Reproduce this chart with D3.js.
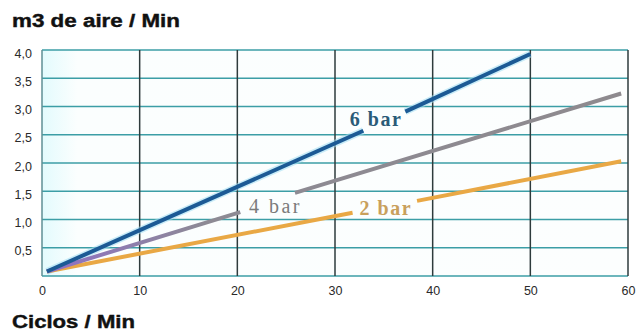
<!DOCTYPE html>
<html><head><meta charset="utf-8">
<script src="https://cdn.jsdelivr.net/npm/d3@7"></script>
<style>body{margin:0;background:#fff}svg{display:block}</style>
</head><body>
<svg id="c" width="639" height="333"></svg>
<script>
const xTicks = [0, 10, 20, 30, 40, 50, 60];
const yTicks = [0.5, 1.0, 1.5, 2.0, 2.5, 3.0, 3.5, 4.0];
// each series: points with null marking the gap left for the label
const bar6 = [[0.5, 0.08], [32.9, 2.57], null, [37.2, 2.91], [50, 3.93]];
const bar4 = [[0.5, 0.08], [20.3, 1.13], null, [25.9, 1.47], [59.3, 3.23]];
const bar2 = [[0.5, 0.08], [31.8, 1.12], null, [38.4, 1.33], [59.3, 2.03]];
const labels = [
  {text: "6 bar", x: 34.2, y: 2.65},
  {text: "4 bar", x: 23.9, y: 1.11},
  {text: "2 bar", x: 35.2, y: 1.08}
];

const svg = d3.select("#c");
const x = d3.scaleLinear().domain([0, 60]).range([42, 628]);
const y = d3.scaleLinear().domain([0, 4]).range([276, 50]);

// plot background
const defs = svg.append("defs");
const g1 = defs.append("linearGradient").attr("id", "bg").attr("x1", 0).attr("x2", 1).attr("y1", 0).attr("y2", 0);
g1.append("stop").attr("offset", "0%").attr("stop-color", "#e3fbfd");
g1.append("stop").attr("offset", "6%").attr("stop-color", "#fbfefe");
g1.append("stop").attr("offset", "100%").attr("stop-color", "#fcfefe");
svg.append("rect").attr("x", x(0)).attr("y", y(4)).attr("width", x(60) - x(0)).attr("height", y(0) - y(4)).attr("fill", "url(#bg)");

// horizontal gridlines
svg.append("g").selectAll("line").data([0].concat(yTicks)).join("line")
  .attr("x1", x(0)).attr("x2", x(60))
  .attr("y1", d => y(d)).attr("y2", d => y(d))
  .attr("stroke", "#3c9ea6").attr("stroke-width", 1.6);
// vertical gridlines
svg.append("g").selectAll("line").data(xTicks).join("line")
  .attr("x1", d => x(d)).attr("x2", d => x(d))
  .attr("y1", y(4)).attr("y2", y(0))
  .attr("stroke", d => d === 0 ? "#5f8f95" : "#2e3b3c").attr("stroke-width", 1.5);

// axes
const yAxis = d3.axisLeft(y).tickValues(yTicks).tickSize(0).tickPadding(0)
  .tickFormat(d => d3.format(".1f")(d).replace(".", ","));
const ya = svg.append("g").attr("transform", "translate(32,3)").call(yAxis);
ya.select(".domain").remove();
ya.selectAll("text").attr("font-family", "Liberation Sans, Arial, sans-serif").attr("font-size", 12.5).attr("fill", "#2a2a2a");

const xAxis = d3.axisBottom(x).tickValues(xTicks).tickSize(0).tickPadding(0).tickFormat(d3.format("d"));
const xa = svg.append("g").attr("transform", "translate(0,286)").call(xAxis);
xa.select(".domain").remove();
xa.selectAll("text").attr("font-family", "Liberation Sans, Arial, sans-serif").attr("font-size", 12.5).attr("fill", "#2a2a2a");

// lines
const line = d3.line().defined(d => d !== null).x(d => x(d[0])).y(d => y(d[1]));
svg.append("path").datum(bar6).attr("d", line).attr("fill", "none")
  .attr("stroke", "#9fdcf2").attr("stroke-width", 7).attr("stroke-opacity", 0.55);
svg.append("path").datum(bar2).attr("d", line).attr("fill", "none")
  .attr("stroke", "#e9a845").attr("stroke-width", 4);
const g4 = defs.append("linearGradient").attr("id", "g4").attr("gradientUnits", "userSpaceOnUse")
  .attr("x1", x(0)).attr("x2", x(60)).attr("y1", 0).attr("y2", 0);
g4.append("stop").attr("offset", "0%").attr("stop-color", "#8f6fc8");
g4.append("stop").attr("offset", "28%").attr("stop-color", "#8d8a94");
g4.append("stop").attr("offset", "100%").attr("stop-color", "#8e8a8e");
svg.append("path").datum(bar4).attr("d", line).attr("fill", "none")
  .attr("stroke", "url(#g4)").attr("stroke-width", 4);
svg.append("path").datum(bar6).attr("d", line).attr("fill", "none")
  .attr("stroke", "#1c5a95").attr("stroke-width", 4);

// line labels
const lcol = ["#2a5b78", "#7b7b7b", "#c9a05c"];
svg.append("g").selectAll("text").data(labels).join("text")
  .attr("x", d => x(d.x)).attr("y", d => y(d.y)).attr("text-anchor", "middle")
  .attr("font-family", "Liberation Serif, Times New Roman, serif")
  .attr("font-weight", (d, i) => i === 1 ? "normal" : "bold")
  .attr("font-size", 20).attr("letter-spacing", (d, i) => i === 1 ? 2.5 : 1.5)
  .attr("fill", (d, i) => lcol[i])
  .text(d => d.text);

// titles
svg.append("text").attr("x", 12).attr("y", 27).attr("textLength", 168).attr("lengthAdjust", "spacingAndGlyphs")
  .attr("font-family", "Liberation Sans, Arial, sans-serif").attr("font-weight", "bold").attr("font-size", 17.5)
  .attr("fill", "#111").attr("stroke", "#111").attr("stroke-width", 0.4).text("m3 de aire / Min");
svg.append("text").attr("x", 12).attr("y", 328).attr("textLength", 123).attr("lengthAdjust", "spacingAndGlyphs")
  .attr("font-family", "Liberation Sans, Arial, sans-serif").attr("font-weight", "bold").attr("font-size", 17.5)
  .attr("fill", "#111").attr("stroke", "#111").attr("stroke-width", 0.4).text("Ciclos / Min");
</script>
</body></html>
